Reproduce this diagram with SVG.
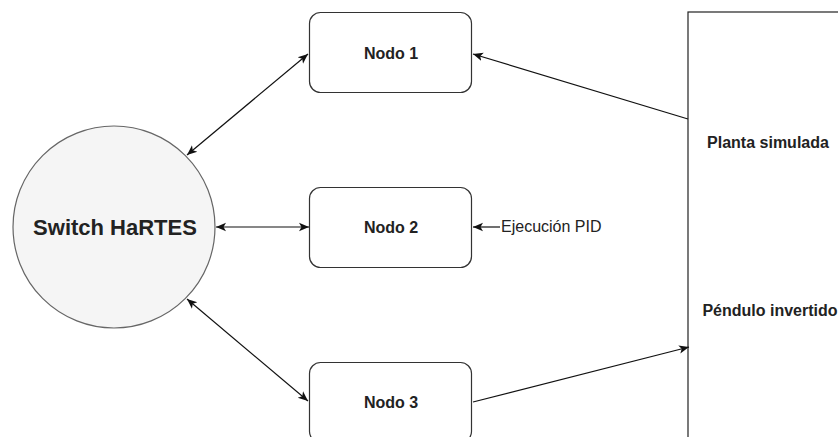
<svg xmlns="http://www.w3.org/2000/svg" width="838" height="437" viewBox="0 0 838 437">
  <defs>
    <style>
      .box { fill: #ffffff; stroke: #333333; stroke-width: 1.2; }
      .switch { fill: #f5f5f5; stroke: #666666; stroke-width: 1.2; }
      .edge { fill: none; stroke: #111111; stroke-width: 1.2; }
      .lbl { font-family: "Liberation Sans", Arial, sans-serif; fill: #222222; }
      .bold { font-weight: bold; font-size: 16px; text-anchor: middle; }
    </style>
    <marker id="arrow" viewBox="0 0 10 10" refX="10" refY="5" markerWidth="10" markerHeight="10" markerUnits="userSpaceOnUse" orient="auto-start-reverse">
      <path d="M0,0.8 L10,5 L0,9.2 L2.5,5 Z" fill="#111111"/>
    </marker>
  </defs>

  <rect width="838" height="437" fill="#ffffff"/>

  <!-- Simulated plant block (extends past the page edge) -->
  <g id="planta">
    <rect x="688" y="12" width="170" height="440" fill="#ffffff" stroke="#222222" stroke-width="1.2"/>
    <text class="lbl bold" x="768" y="148">Planta simulada</text>
    <text class="lbl bold" x="770" y="316">Péndulo invertido</text>
  </g>

  <!-- Network switch -->
  <g id="switch">
    <circle class="switch" cx="114" cy="227" r="101"/>
    <text class="lbl" x="115" y="235" font-size="22" font-weight="bold" text-anchor="middle">Switch HaRTES</text>
  </g>

  <!-- Network nodes -->
  <g id="nodo1">
    <rect class="box" x="309.5" y="12.5" width="162" height="80" rx="11"/>
    <text class="lbl bold" x="391" y="59">Nodo 1</text>
  </g>
  <g id="nodo2">
    <rect class="box" x="309.5" y="187.5" width="162" height="80" rx="11"/>
    <text class="lbl bold" x="391" y="233">Nodo 2</text>
  </g>
  <g id="nodo3">
    <rect class="box" x="309.5" y="362.5" width="162" height="80" rx="11"/>
    <text class="lbl bold" x="391" y="408">Nodo 3</text>
  </g>

  <!-- PID annotation -->
  <g id="pid">
    <text class="lbl" x="501" y="232" font-size="16">Ejecución PID</text>
  </g>

  <!-- Connectors -->
  <g id="connectors">
    <line class="edge" x1="187" y1="155" x2="308" y2="54" marker-start="url(#arrow)" marker-end="url(#arrow)"/>
    <line class="edge" x1="216" y1="227" x2="309" y2="227" marker-start="url(#arrow)" marker-end="url(#arrow)"/>
    <line class="edge" x1="187" y1="299" x2="308" y2="401" marker-start="url(#arrow)" marker-end="url(#arrow)"/>
    <line class="edge" x1="688" y1="119" x2="473" y2="54" marker-end="url(#arrow)"/>
    <line class="edge" x1="473" y1="402" x2="689" y2="347" marker-end="url(#arrow)"/>
    <line class="edge" x1="500" y1="227" x2="473" y2="227" marker-end="url(#arrow)"/>
  </g>
</svg>
